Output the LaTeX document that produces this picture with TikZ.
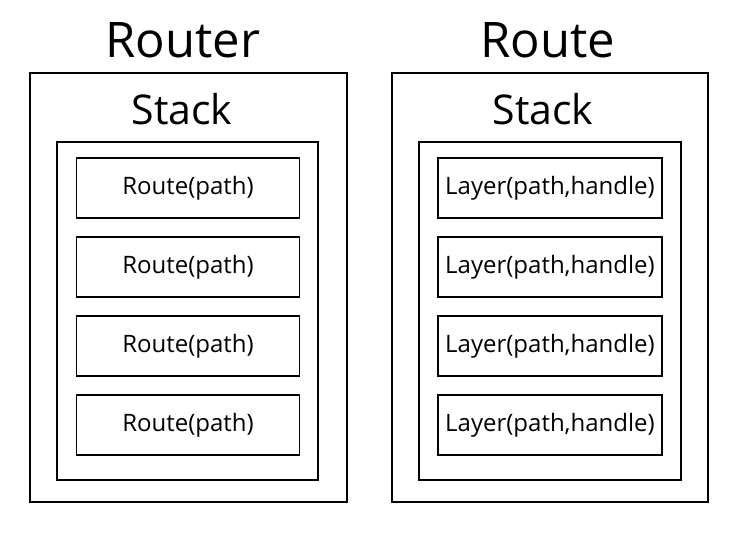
\documentclass[tikz,border=0pt]{standalone}
\usepackage{fontspec}
\setmainfont{Open Sans}
\tikzset{
  frame/.style={draw, line width=1.1pt, inner sep=0pt},
  entry/.style={frame, minimum width=223pt, minimum height=60pt, font=\fontsize{24}{28}\selectfont},
  title/.style={anchor=base, inner sep=0pt, font=\fontsize{49}{54}\selectfont},
  subtitle/.style={anchor=base, inner sep=0pt, font=\fontsize{41}{46}\selectfont}
}
\begin{document}
\begin{tikzpicture}[x=1pt, y=-1pt]
\useasboundingbox (0,0) rectangle (748,550);
% left: Router
\node[title] (routerT) at (183, 57) {Router};
\node[frame, minimum width=317pt, minimum height=429pt] (routerO) at (188.5, 287.5) {};
\node[subtitle] (routerS) at (182, 124) {Stack};
\node[frame, minimum width=261pt, minimum height=338pt] (routerI) at (187.5, 311) {};
\node[entry] (routeA) at (188, 188) {Route(path)};
\node[entry] (routeB) at (188, 267) {Route(path)};
\node[entry] (routeC) at (188, 346) {Route(path)};
\node[entry] (routeD) at (188, 425) {Route(path)};
% right: Route
\node[title] (routeT) at (547.5, 57) {Route};
\node[frame, minimum width=316pt, minimum height=429pt] (routeO) at (550, 287.5) {};
\node[subtitle] (routeS) at (543, 124) {Stack};
\node[frame, minimum width=262pt, minimum height=338pt] (routeI) at (550, 311) {};
\node[entry, minimum width=224pt] (layerA) at (550, 188) {Layer(path,handle)};
\node[entry, minimum width=224pt] (layerB) at (550, 267) {Layer(path,handle)};
\node[entry, minimum width=224pt] (layerC) at (550, 346) {Layer(path,handle)};
\node[entry, minimum width=224pt] (layerD) at (550, 425) {Layer(path,handle)};
\end{tikzpicture}
\end{document}
